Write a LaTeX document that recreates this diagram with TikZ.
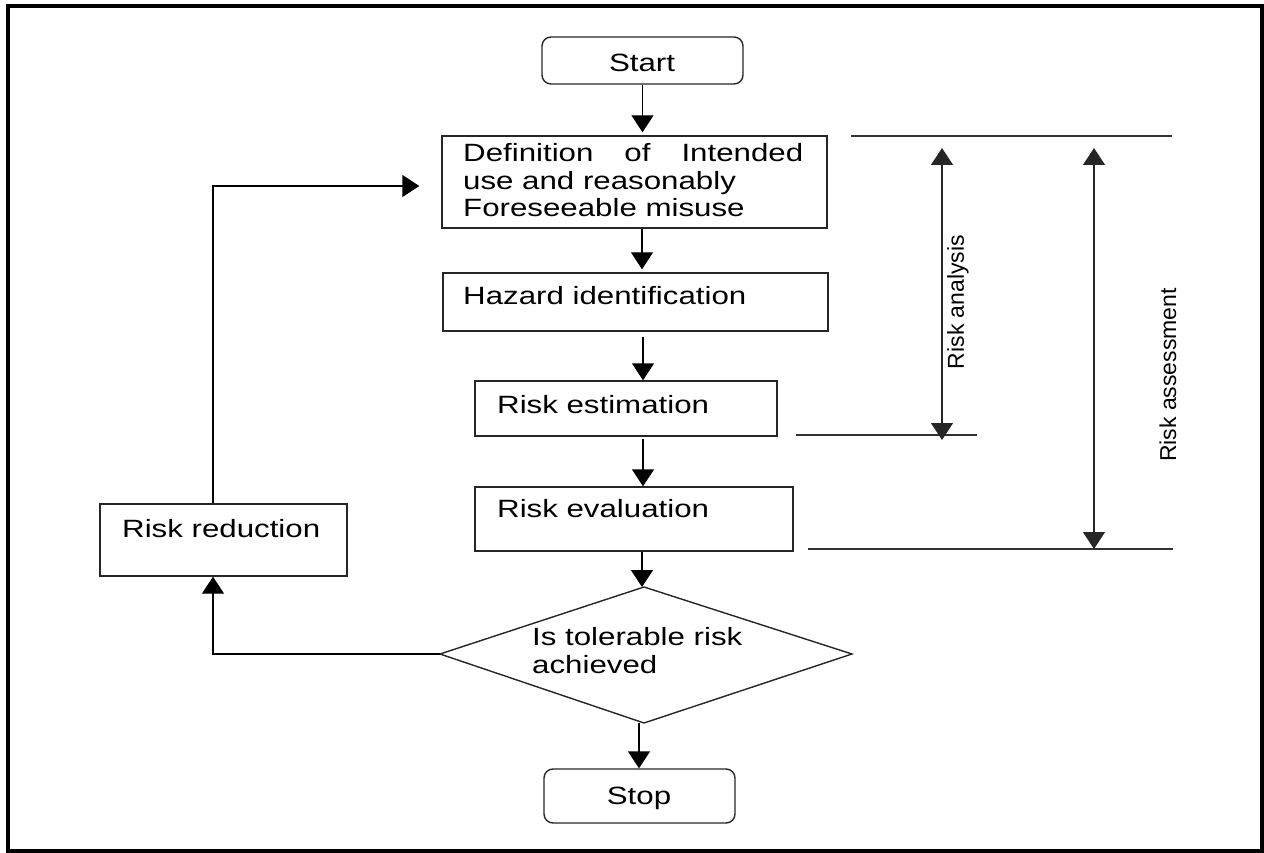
\documentclass[tikz,border=0pt]{standalone}
\usepackage{fontspec}
\setmainfont{Liberation Sans}
\newfontfamily\boxfont[FakeStretch=1.25]{Liberation Sans}
\usetikzlibrary{arrows.meta,shapes.geometric}

\tikzset{
  frame/.style={draw=black, line width=3.2pt},
  stepbox/.style={draw=black!85, line width=1.4pt, rectangle, inner sep=0pt},
  termbox/.style={stepbox, rounded corners=9pt},
  boxtext/.style={font=\boxfont\fontsize{25}{27.5}\selectfont, inner sep=0pt, align=left},
  sidetext/.style={font=\fontsize{23}{27}\selectfont, inner sep=0pt, rotate=90},
  flow/.style={draw=black, line width=1.4pt, -{Triangle[width=22pt,length=17pt]}},
  span/.style={draw=black!85, line width=1.4pt, {Triangle[width=22pt,length=17pt]}-{Triangle[width=22pt,length=17pt]}},
  rule/.style={draw=black!80, line width=1.4pt}
}

\begin{document}
\begin{tikzpicture}[x=1pt,y=-1pt]
\useasboundingbox (0,0) rectangle (1264,853);
\draw[frame] (8,6) rectangle (1262,851);

% process boxes
\node[termbox, minimum width=201pt, minimum height=47pt] (start) at (642.5,60.5) {};
\node[stepbox, minimum width=385pt, minimum height=92pt] (def) at (634.5,182) {};
\node[stepbox, minimum width=385pt, minimum height=58pt] (haz) at (635.5,302) {};
\node[stepbox, minimum width=302pt, minimum height=55pt] (est) at (626,408.5) {};
\node[stepbox, minimum width=318pt, minimum height=64pt] (eval) at (634,519) {};
\node[stepbox, minimum width=247pt, minimum height=72pt] (red) at (223.5,540) {};
\node[termbox, minimum width=191pt, minimum height=54pt] (stop) at (639.5,796) {};

% decision diamond drawn from its four corners
\coordinate (dtop) at (644,587);
\coordinate (dleft) at (440,654);
\coordinate (dright) at (852,654);
\coordinate (dbot) at (644,723);
\draw[draw=black!85, line width=1.4pt] (dtop) -- (dright) -- (dbot) -- (dleft) -- cycle;

% labels (multi-line labels are placed by the baseline of their last line)
\node[boxtext, anchor=base] (tstart) at (642,72) {Start};
\node[boxtext, anchor=base west] (tdef) at (463,217)
  {\hbox to 340pt{Definition\hfill of\hfill Intended}\\use and reasonably\\Foreseeable misuse};
\node[boxtext, anchor=base west] (thaz) at (463,304) {Hazard identification};
\node[boxtext, anchor=base west] (test) at (497,413) {Risk estimation};
\node[boxtext, anchor=base west] (teval) at (497,517) {Risk evaluation};
\node[boxtext, anchor=base west] (tred) at (122,537) {Risk reduction};
\node[boxtext, anchor=base west] (tdec) at (532,673) {Is tolerable risk\\achieved};
\node[boxtext, anchor=base] (tstop) at (639,804) {Stop};

% main flow
\draw[flow, shorten >=3pt] (start.south) -- (start.south |- def.north);
\draw[flow, shorten >=3pt] ([xshift=7.5pt]def.south) -- ([xshift=7.5pt]def.south |- haz.north);
\draw[flow, shorten <=5pt] ([xshift=7.5pt]haz.south) -- ([xshift=7.5pt]haz.south |- est.north);
\draw[flow, shorten <=2pt] ([xshift=17pt]est.south) -- ([xshift=17pt]est.south |- eval.north);
\draw[flow] ([xshift=8pt]eval.south) -- ([xshift=8pt]eval.south |- dtop);
\draw[flow] ([xshift=-5pt]dbot) -- ([xshift=-5pt]dbot |- stop.north);

% feedback loop
\draw[flow] (dleft) -| ([xshift=-10.5pt]red.south);
\draw[flow, shorten >=22pt] ([xshift=-10.5pt]red.north) |- ([yshift=-4pt]def.west);

% extent markers on the right
\coordinate (topL) at (851,136);
\coordinate (topR) at (1172,136);
\coordinate (anL) at (796,435);
\coordinate (anR) at (977,435);
\coordinate (asL) at (808,549);
\coordinate (asR) at (1173,549);
\coordinate (anTop) at (942,148);
\coordinate (anBot) at (942,440);
\coordinate (asTop) at (1094,148);
\coordinate (asBot) at (1094,549);
\draw[rule] (topL) -- (topR);
\draw[rule] (anL) -- (anR);
\draw[rule] (asL) -- (asR);
\draw[span] (anTop) -- (anBot);
\draw[span] (asTop) -- (asBot);
\node[sidetext] (lan) at (958,302) {Risk analysis};
\node[sidetext] (las) at (1168,375) {Risk assessment};
\end{tikzpicture}
\end{document}
